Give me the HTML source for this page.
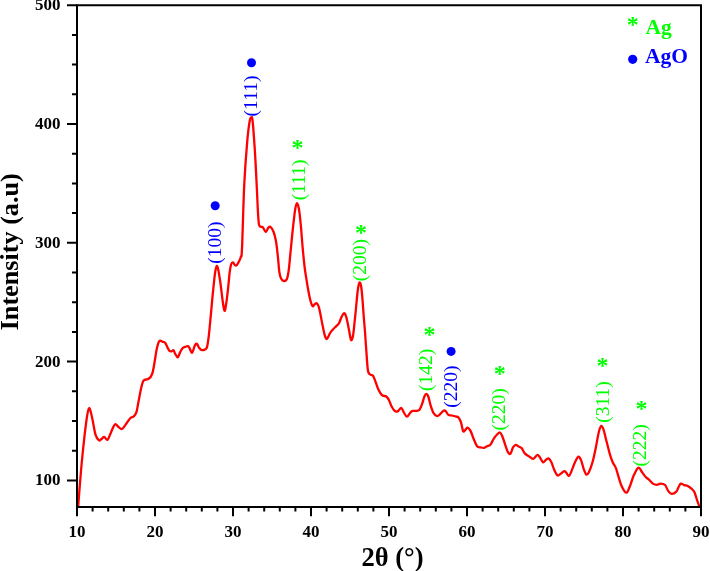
<!DOCTYPE html>
<html><head><meta charset="utf-8"><style>
html,body{margin:0;padding:0;background:#fff;}
svg{display:block;will-change:transform;}
text{font-family:"Liberation Serif",serif;}
.tl{font-size:17px;font-weight:bold;fill:#000;}
.at{font-size:25.5px;font-weight:bold;fill:#000;}
.lg{font-size:21.5px;font-weight:bold;}
.pk{font-size:19.5px;}
.st{font-size:24px;font-weight:bold;}
</style></head><body>
<svg width="710" height="571" viewBox="0 0 710 571">
<rect x="0" y="0" width="710" height="571" fill="#fff"/>
<path d="M78.2 506.2 C78.8 498.5 80.6 474.4 82.0 460.0 C83.4 445.6 85.3 428.6 86.5 420.0 C87.7 411.4 88.2 409.8 88.9 408.5 C89.6 407.2 90.2 409.9 90.8 412.0 C91.4 414.1 92.0 417.2 92.8 421.0 C93.6 424.8 94.5 431.5 95.5 434.7 C96.5 437.9 97.9 439.7 98.9 440.4 C99.9 441.1 100.6 439.6 101.5 439.0 C102.4 438.4 103.2 436.9 104.2 437.0 C105.2 437.1 106.5 440.5 107.6 439.7 C108.7 438.9 109.8 434.9 111.0 432.4 C112.2 429.8 113.7 425.3 114.9 424.4 C116.1 423.4 117.1 425.9 118.3 426.7 C119.5 427.5 120.7 429.4 121.9 429.0 C123.2 428.6 124.4 426.2 125.8 424.4 C127.2 422.6 129.1 419.3 130.4 418.0 C131.7 416.7 132.8 417.4 133.8 416.4 C134.8 415.4 135.8 414.2 136.5 411.9 C137.2 409.6 137.5 406.8 138.3 402.8 C139.1 398.8 140.3 391.7 141.2 388.0 C142.1 384.3 142.4 382.1 143.5 380.6 C144.6 379.1 146.5 379.8 147.7 379.2 C148.9 378.6 149.8 378.2 150.6 377.0 C151.4 375.8 152.0 374.8 152.7 372.1 C153.4 369.4 154.1 364.8 154.8 360.8 C155.5 356.8 156.1 351.5 156.9 348.2 C157.7 344.9 158.5 342.2 159.4 341.1 C160.3 340.0 161.6 341.5 162.5 341.8 C163.4 342.1 164.3 341.9 165.1 342.8 C165.9 343.8 166.8 346.1 167.5 347.5 C168.2 348.9 168.9 350.4 169.6 351.0 C170.3 351.6 171.0 351.4 171.7 351.3 C172.3 351.2 172.9 349.9 173.5 350.3 C174.1 350.7 174.5 352.6 175.2 353.8 C175.9 355.0 176.9 357.5 177.7 357.3 C178.5 357.1 179.3 353.9 180.1 352.4 C180.9 350.9 181.6 349.1 182.5 348.2 C183.4 347.3 184.5 347.1 185.4 346.8 C186.3 346.5 187.2 345.9 187.9 346.1 C188.6 346.3 188.9 347.1 189.6 348.2 C190.3 349.3 191.2 353.2 192.1 352.7 C193.0 352.2 194.1 346.9 194.9 345.4 C195.7 343.9 196.1 343.3 196.8 343.7 C197.5 344.1 198.2 346.5 198.9 347.5 C199.7 348.5 200.3 349.5 201.3 349.9 C202.3 350.2 203.9 350.0 204.8 349.6 C205.7 349.2 206.3 349.1 206.9 347.5 C207.5 345.9 207.8 343.1 208.3 339.7 C208.8 336.3 209.0 333.8 209.7 327.0 C210.4 320.2 211.6 306.3 212.3 298.8 C213.0 291.3 213.5 286.7 214.0 282.0 C214.5 277.3 214.9 273.5 215.4 270.8 C215.9 268.1 216.3 266.1 216.8 265.9 C217.3 265.7 217.6 266.7 218.2 269.4 C218.8 272.1 219.6 277.1 220.3 282.0 C221.0 286.9 221.7 294.0 222.4 298.8 C223.1 303.6 223.8 310.1 224.5 310.8 C225.2 311.5 225.7 306.6 226.3 303.0 C226.9 299.4 227.4 294.1 228.0 289.0 C228.6 283.9 229.2 276.3 229.7 272.2 C230.2 268.1 230.6 266.1 231.1 264.5 C231.6 262.9 232.2 262.3 232.9 262.4 C233.6 262.5 234.4 264.7 235.0 265.2 C235.6 265.7 236.0 265.9 236.7 265.2 C237.4 264.5 238.5 262.4 239.2 261.0 C239.9 259.6 240.4 258.9 240.9 256.8 C241.4 254.7 241.4 260.6 242.0 248.4 C242.6 236.2 243.4 201.3 244.3 183.5 C245.2 165.7 246.3 152.2 247.2 141.8 C248.1 131.4 249.0 125.1 249.7 121.0 C250.4 116.9 250.7 117.3 251.2 117.3 C251.7 117.3 252.0 116.1 252.6 121.0 C253.2 125.9 253.9 136.3 254.6 146.7 C255.3 157.1 256.1 172.8 256.6 183.5 C257.2 194.2 257.5 204.1 257.9 211.0 C258.3 217.9 258.5 222.4 259.1 225.0 C259.7 227.6 260.7 226.4 261.4 226.8 C262.1 227.2 262.4 226.7 263.1 227.6 C263.8 228.5 264.9 232.0 265.8 232.0 C266.7 232.0 267.6 228.4 268.4 227.6 C269.2 226.8 269.8 226.4 270.7 227.1 C271.6 227.8 272.7 229.7 273.6 232.0 C274.5 234.3 275.2 237.0 275.9 240.8 C276.6 244.6 277.1 249.6 277.7 254.8 C278.3 260.1 278.8 268.2 279.4 272.3 C280.0 276.4 280.7 277.9 281.5 279.3 C282.3 280.8 283.2 281.0 284.1 281.0 C285.0 281.0 286.0 281.3 286.8 279.3 C287.6 277.3 288.3 273.5 288.9 268.8 C289.5 264.1 289.9 258.0 290.6 251.3 C291.3 244.6 292.1 235.5 292.9 228.5 C293.7 221.5 294.5 213.5 295.2 209.3 C295.9 205.1 296.3 203.1 296.9 203.1 C297.5 203.1 298.4 205.7 299.0 209.3 C299.6 213.0 300.2 218.9 300.8 225.0 C301.4 231.1 301.9 239.0 302.5 246.0 C303.1 253.0 304.0 261.6 304.6 267.0 C305.2 272.4 305.7 274.4 306.3 278.4 C306.9 282.4 307.7 287.3 308.4 291.0 C309.1 294.7 309.8 298.3 310.5 300.8 C311.2 303.3 311.9 305.5 312.6 306.1 C313.3 306.7 314.0 304.8 314.7 304.3 C315.4 303.8 316.1 303.0 316.8 303.3 C317.5 303.6 318.0 304.7 318.6 306.4 C319.2 308.1 319.7 310.4 320.3 313.4 C320.9 316.4 321.7 321.1 322.4 324.6 C323.1 328.1 323.9 332.0 324.5 334.4 C325.1 336.8 325.7 338.4 326.3 338.9 C326.9 339.4 327.4 338.2 328.0 337.2 C328.6 336.2 329.3 334.3 330.1 333.0 C330.9 331.7 331.8 330.7 332.9 329.5 C333.9 328.3 335.4 327.1 336.4 326.0 C337.4 324.9 338.2 324.6 339.0 323.2 C339.8 321.8 340.5 319.2 341.3 317.6 C342.1 316.0 343.0 313.9 343.7 313.4 C344.4 312.9 344.9 313.4 345.5 314.8 C346.1 316.2 346.8 319.0 347.4 321.8 C348.0 324.6 348.7 328.6 349.3 331.6 C349.9 334.7 350.5 339.4 351.1 340.1 C351.7 340.8 352.4 338.9 353.0 335.8 C353.6 332.8 354.1 326.9 354.6 321.8 C355.2 316.7 355.8 310.1 356.3 305.0 C356.8 299.9 357.2 294.7 357.7 291.0 C358.2 287.3 358.9 283.3 359.5 282.6 C360.1 281.9 360.7 283.8 361.2 286.8 C361.7 289.8 362.2 295.9 362.6 300.8 C363.0 305.7 363.3 310.8 363.7 316.2 C364.1 321.6 364.7 327.8 365.1 333.0 C365.5 338.2 365.6 341.3 366.1 347.5 C366.6 353.7 367.2 365.8 367.9 370.3 C368.6 374.8 369.6 373.8 370.5 374.7 C371.4 375.6 372.2 374.6 373.1 375.9 C374.0 377.2 374.9 380.2 375.8 382.5 C376.7 384.8 377.4 387.4 378.4 389.5 C379.4 391.6 380.6 393.9 381.9 395.1 C383.2 396.3 385.1 395.7 386.3 396.5 C387.5 397.3 388.0 398.4 388.9 400.0 C389.8 401.6 390.5 404.4 391.5 406.2 C392.5 408.0 393.7 410.0 394.7 410.9 C395.7 411.8 396.6 411.9 397.7 411.4 C398.8 410.9 400.2 407.8 401.2 407.9 C402.2 408.0 402.9 410.8 403.8 412.3 C404.8 413.8 405.9 416.6 406.9 416.7 C407.9 416.8 409.0 414.2 409.9 413.2 C410.8 412.2 411.5 411.3 412.5 410.9 C413.5 410.5 414.8 411.1 416.0 410.9 C417.2 410.7 418.5 410.9 419.5 409.7 C420.5 408.5 421.4 405.8 422.2 403.6 C423.0 401.4 423.7 398.1 424.4 396.5 C425.1 394.9 425.5 393.9 426.2 393.9 C426.9 393.9 427.6 394.6 428.3 396.5 C429.0 398.4 429.7 402.5 430.6 405.3 C431.5 408.1 432.5 411.4 433.6 413.2 C434.7 415.0 436.0 416.0 437.1 416.2 C438.2 416.4 439.2 415.0 440.2 414.1 C441.2 413.2 442.3 411.4 443.2 410.9 C444.1 410.4 444.6 410.2 445.5 410.9 C446.4 411.6 447.3 414.1 448.4 414.9 C449.5 415.7 450.6 415.2 451.9 415.5 C453.2 415.8 455.3 416.4 456.3 416.7 C457.3 416.9 457.2 416.1 458.0 417.0 C458.8 417.9 460.0 419.6 460.9 422.0 C461.8 424.4 462.4 429.8 463.1 431.1 C463.9 432.4 464.7 430.5 465.4 429.9 C466.1 429.3 466.6 427.4 467.5 427.6 C468.4 427.8 469.7 429.2 470.7 431.1 C471.7 433.0 472.5 436.2 473.6 438.7 C474.7 441.2 475.9 444.8 477.1 446.2 C478.3 447.6 479.4 447.1 480.6 447.4 C481.8 447.7 483.1 448.1 484.2 447.9 C485.3 447.7 486.1 446.7 487.1 446.2 C488.1 445.7 489.2 446.1 490.3 444.8 C491.4 443.6 492.6 440.4 493.8 438.7 C495.0 436.9 496.3 435.3 497.3 434.3 C498.3 433.3 499.1 432.2 499.9 432.5 C500.7 432.8 501.3 433.9 502.2 436.0 C503.1 438.1 504.3 442.2 505.2 444.8 C506.1 447.4 506.9 450.3 507.8 451.8 C508.7 453.3 509.5 454.6 510.4 453.9 C511.3 453.2 512.1 448.9 513.0 447.4 C513.9 445.9 514.8 444.9 515.7 444.8 C516.7 444.7 517.7 445.9 518.7 446.5 C519.7 447.1 520.8 447.1 521.8 448.3 C522.8 449.5 523.8 452.3 525.0 453.6 C526.2 454.9 527.4 455.3 528.8 456.2 C530.2 457.1 531.8 459.0 533.2 458.8 C534.6 458.6 536.1 455.3 537.2 455.0 C538.3 454.7 538.7 455.9 539.7 457.1 C540.7 458.3 541.9 461.9 543.0 462.3 C544.1 462.7 545.1 460.3 546.1 459.7 C547.1 459.1 547.9 458.1 548.8 458.5 C549.7 458.9 550.5 460.5 551.4 462.3 C552.3 464.1 553.0 467.1 554.0 469.3 C555.0 471.5 556.4 474.7 557.5 475.4 C558.6 476.1 559.6 474.4 560.7 473.7 C561.8 473.0 563.3 471.2 564.2 471.1 C565.1 471.0 565.5 472.0 566.3 472.8 C567.1 473.6 568.0 476.3 568.9 476.0 C569.8 475.7 570.5 473.4 571.5 471.1 C572.5 468.8 573.8 464.7 575.0 462.3 C576.2 459.9 577.5 457.0 578.5 456.7 C579.5 456.4 580.3 458.5 581.2 460.6 C582.1 462.7 582.9 467.0 583.8 469.3 C584.7 471.6 585.5 474.2 586.4 474.6 C587.3 475.0 588.0 473.9 589.0 471.9 C590.0 469.8 591.4 466.2 592.5 462.3 C593.6 458.4 594.7 453.3 595.7 448.3 C596.7 443.3 597.8 436.2 598.7 432.5 C599.6 428.8 600.4 426.2 601.3 425.9 C602.2 425.6 603.0 428.2 603.9 430.8 C604.8 433.4 605.5 437.5 606.5 441.3 C607.5 445.1 608.7 450.1 609.7 453.6 C610.7 457.1 611.7 460.0 612.7 462.3 C613.7 464.6 614.8 465.6 615.7 467.6 C616.6 469.7 616.9 471.6 617.9 474.6 C618.9 477.7 620.2 482.9 621.6 485.9 C623.0 488.9 624.9 492.5 626.2 492.7 C627.5 492.9 628.4 489.9 629.6 487.0 C630.9 484.1 632.2 478.8 633.7 475.6 C635.2 472.4 636.9 468.3 638.3 467.7 C639.7 467.1 640.9 470.7 642.1 472.2 C643.3 473.7 644.4 475.6 645.5 476.8 C646.6 478.1 647.8 478.6 649.0 479.7 C650.2 480.8 651.5 482.8 652.8 483.6 C654.1 484.5 655.6 484.8 656.9 484.8 C658.2 484.8 659.1 483.6 660.4 483.6 C661.7 483.6 663.6 483.6 664.9 484.8 C666.2 486.1 667.2 489.6 668.3 491.1 C669.4 492.6 670.4 493.8 671.7 493.9 C673.0 494.0 675.1 492.8 676.3 491.6 C677.4 490.5 677.9 488.3 678.6 487.0 C679.4 485.7 679.8 483.9 680.8 483.6 C681.8 483.3 683.1 484.8 684.3 485.2 C685.4 485.6 686.4 485.2 687.7 485.9 C689.0 486.6 691.1 488.2 692.2 489.3 C693.4 490.4 693.8 490.7 694.6 492.5 C695.4 494.3 696.2 497.6 697.0 500.0 C697.8 502.4 699.0 505.5 699.4 506.6" fill="none" stroke="#ff0000" stroke-width="2.3" stroke-linejoin="round" stroke-linecap="round"/>
<path d="M77.0 5.2 H701.0 V507.0 H77.0 Z" fill="none" stroke="#000" stroke-width="2" stroke-linejoin="miter"/>
<path d="M67 480.4 H77 M72 450.7 H77 M72 421.0 H77 M72 391.3 H77 M67 361.6 H77 M72 331.9 H77 M72 302.2 H77 M72 272.5 H77 M67 242.8 H77 M72 213.1 H77 M72 183.4 H77 M72 153.7 H77 M67 124.0 H77 M72 94.3 H77 M72 64.6 H77 M72 34.9 H77 M67 5.2 H77 M77.0 507 V516.3 M92.6 507 V511.6 M108.2 507 V511.6 M123.8 507 V511.6 M139.4 507 V511.6 M155.0 507 V516.3 M170.6 507 V511.6 M186.2 507 V511.6 M201.8 507 V511.6 M217.4 507 V511.6 M233.0 507 V516.3 M248.6 507 V511.6 M264.2 507 V511.6 M279.8 507 V511.6 M295.4 507 V511.6 M311.0 507 V516.3 M326.6 507 V511.6 M342.2 507 V511.6 M357.8 507 V511.6 M373.4 507 V511.6 M389.0 507 V516.3 M404.6 507 V511.6 M420.2 507 V511.6 M435.8 507 V511.6 M451.4 507 V511.6 M467.0 507 V516.3 M482.6 507 V511.6 M498.2 507 V511.6 M513.8 507 V511.6 M529.4 507 V511.6 M545.0 507 V516.3 M560.6 507 V511.6 M576.2 507 V511.6 M591.8 507 V511.6 M607.4 507 V511.6 M623.0 507 V516.3 M638.6 507 V511.6 M654.2 507 V511.6 M669.8 507 V511.6 M685.4 507 V511.6 M701.0 507 V516.3" stroke="#000" stroke-width="2" fill="none"/>
<text x="60.5" y="485.3" text-anchor="end" class="tl">100</text>
<text x="60.5" y="366.5" text-anchor="end" class="tl">200</text>
<text x="60.5" y="247.7" text-anchor="end" class="tl">300</text>
<text x="60.5" y="128.9" text-anchor="end" class="tl">400</text>
<text x="60.5" y="10.1" text-anchor="end" class="tl">500</text>
<text x="77.0" y="536.5" text-anchor="middle" class="tl">10</text>
<text x="155.0" y="536.5" text-anchor="middle" class="tl">20</text>
<text x="233.0" y="536.5" text-anchor="middle" class="tl">30</text>
<text x="311.0" y="536.5" text-anchor="middle" class="tl">40</text>
<text x="389.0" y="536.5" text-anchor="middle" class="tl">50</text>
<text x="467.0" y="536.5" text-anchor="middle" class="tl">60</text>
<text x="545.0" y="536.5" text-anchor="middle" class="tl">70</text>
<text x="623.0" y="536.5" text-anchor="middle" class="tl">80</text>
<text x="701.0" y="536.5" text-anchor="middle" class="tl">90</text>
<text x="392.5" y="565.8" text-anchor="middle" class="at" style="font-size:26.6px">2θ (°)</text>
<text transform="translate(17.6 251.8) rotate(-90)" text-anchor="middle" class="at" style="font-size:26.2px">Intensity (a.u)</text>
<text x="632.7" y="31.6" text-anchor="middle" class="st" fill="#00ff00">*</text>
<text x="645.5" y="34.4" class="lg" fill="#00ff00">Ag</text>
<circle cx="632.7" cy="59.3" r="4.6" fill="#0000ff"/>
<text x="645" y="62.9" class="lg" fill="#0000ff">AgO</text>
<text transform="translate(221.4 242.5) rotate(-90)" text-anchor="middle" class="pk" fill="#0000ff">(100)</text>
<circle cx="215.2" cy="205.7" r="4.5" fill="#0000ff"/>
<text transform="translate(257.4 96.0) rotate(-90)" text-anchor="middle" class="pk" fill="#0000ff">(111)</text>
<circle cx="251.5" cy="62.8" r="4.5" fill="#0000ff"/>
<text transform="translate(457.0 386.6) rotate(-90)" text-anchor="middle" class="pk" fill="#0000ff">(220)</text>
<circle cx="451.1" cy="351.4" r="4.5" fill="#0000ff"/>
<text transform="translate(304.6 179.9) rotate(-90)" text-anchor="middle" class="pk" fill="#00ff00">(111)</text>
<text x="297.5" y="154.9" text-anchor="middle" class="st" fill="#00ff00">*</text>
<text transform="translate(366.3 260.1) rotate(-90)" text-anchor="middle" class="pk" fill="#00ff00">(200)</text>
<text x="361.1" y="240.0" text-anchor="middle" class="st" fill="#00ff00">*</text>
<text transform="translate(431.8 369.8) rotate(-90)" text-anchor="middle" class="pk" fill="#00ff00">(142)</text>
<text x="429.4" y="342.4" text-anchor="middle" class="st" fill="#00ff00">*</text>
<text transform="translate(505.2 409.4) rotate(-90)" text-anchor="middle" class="pk" fill="#00ff00">(220)</text>
<text x="499.7" y="380.8" text-anchor="middle" class="st" fill="#00ff00">*</text>
<text transform="translate(608.8 401.9) rotate(-90)" text-anchor="middle" class="pk" fill="#00ff00">(311)</text>
<text x="602.5" y="372.8" text-anchor="middle" class="st" fill="#00ff00">*</text>
<text transform="translate(646.0 445.4) rotate(-90)" text-anchor="middle" class="pk" fill="#00ff00">(222)</text>
<text x="641.5" y="416.2" text-anchor="middle" class="st" fill="#00ff00">*</text>
</svg>
</body></html>
